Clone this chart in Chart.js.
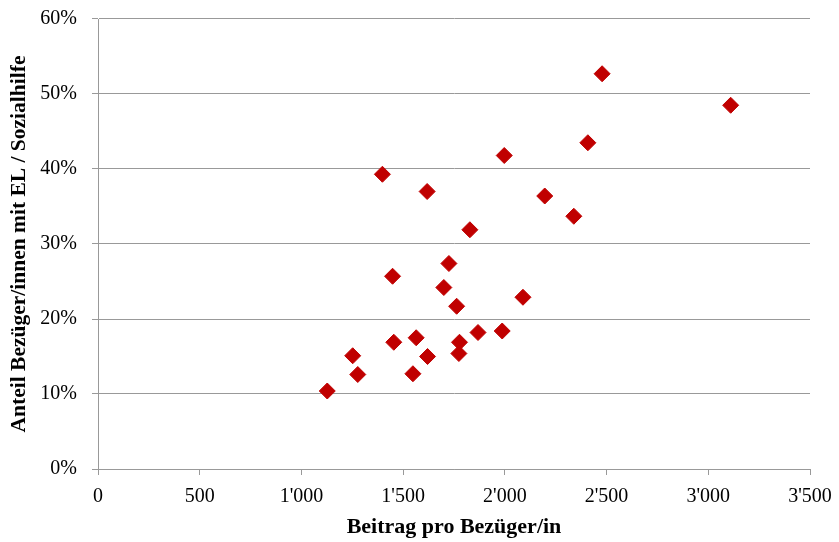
<!DOCTYPE html>
<html>
<head>
<meta charset="utf-8">
<script src="https://cdn.jsdelivr.net/npm/chart.js@4/dist/chart.umd.min.js"></script>
<style>
  html, body { margin: 0; padding: 0; background: #ffffff; }
  #wrap { width: 839px; height: 542px; }
</style>
</head>
<body>
<div id="wrap"><canvas id="c" width="839" height="542"></canvas></div>
<script>
// Beitrag pro Bezüger/in (x) and Anteil Bezüger/innen mit EL / Sozialhilfe (y)
const beitrag = [1127, 1252, 1277, 1398, 1448, 1454, 1548, 1564, 1618, 1620, 1700, 1725, 1763, 1777, 1774, 1828, 1868, 1987, 1997, 2089, 2196, 2339, 2408, 2478, 3110];
const anteil  = [0.104, 0.151, 0.126, 0.393, 0.257, 0.169, 0.127, 0.175, 0.370, 0.150, 0.242, 0.274, 0.217, 0.169, 0.154, 0.319, 0.182, 0.184, 0.418, 0.229, 0.364, 0.337, 0.435, 0.527, 0.485];
const xTickLabels = ["0", "500", "1'000", "1'500", "2'000", "2'500", "3'000", "3'500"];
const yTickLabels = ["0%", "10%", "20%", "30%", "40%", "50%", "60%"];
const xTitle = "Beitrag pro Bezüger/in";
const yTitle = "Anteil Bezüger/innen mit EL / Sozialhilfe";

const points = beitrag.map((v, i) => ({ x: v, y: anteil[i] }));

const serif = "'Liberation Serif', 'DejaVu Serif', serif";

function noOverflow(s) {
  s.paddingTop = 0; s.paddingBottom = 0; s.paddingLeft = 0; s.paddingRight = 0;
}

new Chart(document.getElementById('c'), {
  type: 'scatter',
  data: {
    datasets: [{
      data: points,
      pointStyle: 'rectRot',
      pointRadius: 8,
      pointHoverRadius: 8,
      backgroundColor: '#C00000',
      borderColor: '#C00000',
      borderWidth: 1
    }]
  },
  options: {
    responsive: false,
    animation: false,
    events: [],
    layout: { padding: { left: 0, right: 29, top: 19, bottom: 0 } },
    plugins: { legend: { display: false }, tooltip: { enabled: false } },
    scales: {
      x: {
        type: 'linear',
        min: 0, max: 3500,
        afterFit: (s) => { s.height = 73; noOverflow(s); },
        afterBuildTicks: (s) => { s.ticks = xTickLabels.map((_, i) => ({ value: i * 500 })); },
        ticks: {
          padding: 10,
          color: '#000',
          font: { family: serif, size: 20 },
          maxRotation: 0,
          autoSkip: false,
          callback: (v, i) => xTickLabels[i]
        },
        grid: { drawOnChartArea: false, color: '#999999', lineWidth: 1, tickLength: 6 },
        border: { color: '#999999', width: 1 },
        title: {
          display: true, text: xTitle, color: '#000',
          font: { family: serif, size: 22, weight: 'bold' },
          padding: { top: 0, bottom: 1 }
        }
      },
      y: {
        type: 'linear',
        min: 0, max: 0.6,
        afterFit: (s) => { s.width = 98; noOverflow(s); },
        afterBuildTicks: (s) => { s.ticks = yTickLabels.map((_, i) => ({ value: i * 0.1 })); },
        ticks: {
          padding: 15,
          color: '#000',
          font: { family: serif, size: 20 },
          autoSkip: false,
          callback: (v, i) => yTickLabels[i]
        },
        grid: { color: '#999999', lineWidth: 1, tickLength: 6 },
        border: { color: '#999999', width: 1 },
        title: {
          display: true, text: yTitle, color: '#000',
          font: { family: serif, size: 21.5, weight: 'bold' },
          padding: { top: 7, bottom: 0 }
        }
      }
    }
  }
});
</script>
</body>
</html>
